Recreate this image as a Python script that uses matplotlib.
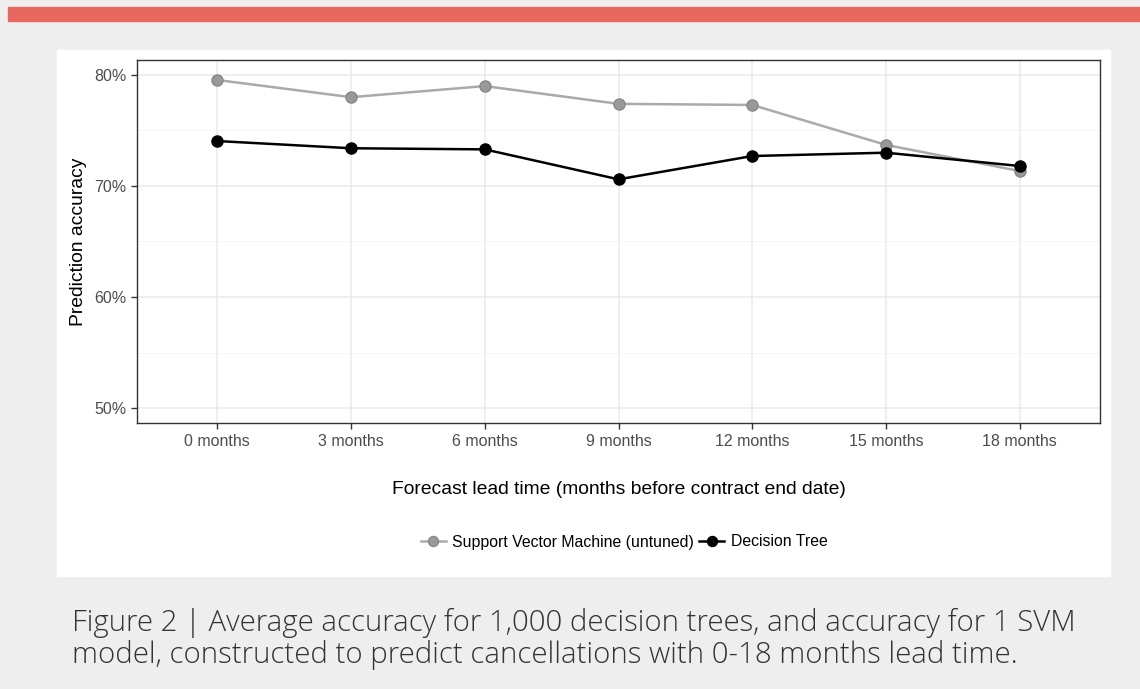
import matplotlib
matplotlib.use("Agg")
import matplotlib.pyplot as plt
from matplotlib.patches import Rectangle
from matplotlib.ticker import FuncFormatter, MultipleLocator

# Data
lead_times = ["0 months", "3 months", "6 months", "9 months", "12 months", "15 months", "18 months"]
svm_acc = [79.55, 78.0, 79.0, 77.4, 77.3, 73.7, 71.35]
tree_acc = [74.05, 73.4, 73.3, 70.6, 72.7, 73.0, 71.8]
y_ticks = [50, 60, 70, 80]
caption = ("Figure 2 | Average accuracy for 1,000 decision trees, and accuracy for 1 SVM\n"
           "model, constructed to predict cancellations with 0-18 months lead time.")

W, H = 1140, 689
fig = plt.figure(figsize=(W / 100, H / 100), dpi=100)
fig.patch.set_facecolor("#eeeeee")


def px_rect(x0, y0, x1, y1, color):
    # rectangle given in pixel coords from top-left
    fig.patches.append(Rectangle((x0 / W, 1 - y1 / H), (x1 - x0) / W, (y1 - y0) / H,
                                 transform=fig.transFigure, color=color, zorder=-5))


px_rect(8, 7, W, 21, "#e8675e")
px_rect(57, 50, 1110, 576, "white")

# Axes placement (pixels)
left, right, top, bottom = 137, 1100, 60, 423
ax = fig.add_axes([left / W, 1 - bottom / H, (right - left) / W, (bottom - top) / H])
ax.set_zorder(2)

x = list(range(len(lead_times)))
ax.plot(x, svm_acc, color="#aaaaaa", linewidth=1.8, marker="o", markersize=8,
        markerfacecolor="#999999", markeredgecolor="#888888", label="Support Vector Machine (untuned)", zorder=3)
ax.plot(x, tree_acc, color="black", linewidth=1.8, marker="o", markersize=8,
        label="Decision Tree", zorder=4)

ax.set_xlim(-0.6, len(lead_times) - 1 + 0.6)
ax.set_ylim(48.65, 81.35)
ax.set_xticks(x)
ax.set_xticklabels(lead_times)
ax.set_yticks(y_ticks)
ax.yaxis.set_minor_locator(MultipleLocator(5))
ax.yaxis.set_major_formatter(FuncFormatter(lambda v, _: f"{v:.0f}%"))

ax.grid(True, which="major", color="#ebebeb", linewidth=1.1, zorder=0)
ax.grid(True, which="minor", axis="y", color="#f2f2f2", linewidth=0.6, zorder=0)
ax.set_axisbelow(True)
for s in ax.spines.values():
    s.set_color("#333333")
    s.set_linewidth(1.0)
ax.tick_params(axis="both", which="major", colors="#333333", labelcolor="#4d4d4d",
               labelsize=11.5, length=4, width=1)
ax.tick_params(axis="x", pad=4)
ax.tick_params(axis="y", which="minor", length=0)
for lbl in ax.get_xticklabels() + ax.get_yticklabels():
    lbl.set_family("Liberation Sans")

ax.set_xlabel("Forecast lead time (months before contract end date)", family="Liberation Sans",
              fontsize=13.9, labelpad=23)
ax.set_ylabel("Prediction accuracy", family="Liberation Sans", fontsize=13.9, labelpad=5)

fig.legend(loc="center", bbox_to_anchor=(624 / W, 1 - 542 / H), ncol=2, frameon=False,
           prop={"family": "Liberation Sans", "size": 11.4}, handlelength=1.6,
           handletextpad=0.4, columnspacing=0.3, markerscale=0.9)

fig.text(72 / W, 1 - 639 / H, caption, family="Open Sans", fontsize=21.2, color="#333333",
         va="center", ha="left", linespacing=1.12, fontweight="light")

fig.savefig("out.png", dpi=100, facecolor=fig.get_facecolor())
